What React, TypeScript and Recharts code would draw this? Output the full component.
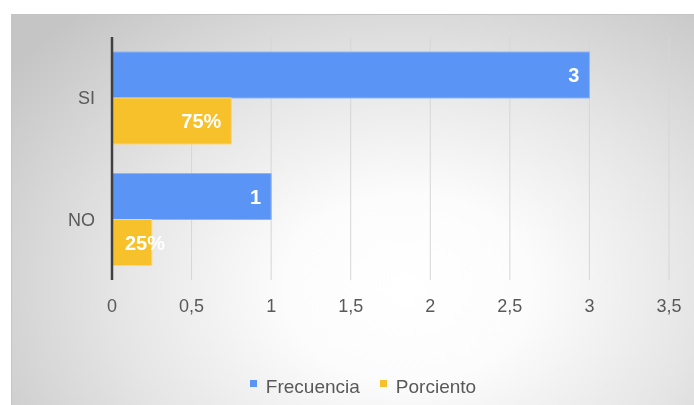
import React from 'react';
import { BarChart, Bar, XAxis, YAxis, CartesianGrid, Legend, LabelList } from 'recharts';

const categories = ['SI', 'NO'];
const frecuencia = [3, 1];
const porciento = [0.75, 0.25];
const xTicks = [0, 0.5, 1, 1.5, 2, 2.5, 3, 3.5];
const seriesNames = ['Frecuencia', 'Porciento'];
const seriesColors = ['#5a94f4', '#f6c12b'];
const seriesStrokes = ['#8cb4f7', '#f9d577'];

const data = categories.map((c, i) => ({ name: c, frecuencia: frecuencia[i], porciento: porciento[i] }));

const FONT = '"Liberation Sans", Arial, sans-serif';

const makeLabel = (fmt: (v: number) => string) => (props: any) => {
  const { x, y, width, height, value } = props;
  const text = fmt(Number(value));
  const estW = text.length * 12;
  const fits = width > estW + 22;
  const tx = fits ? x + width - 10 : x + 13;
  return (
    <text
      x={tx}
      y={y + height / 2}
      dy="0.36em"
      textAnchor={fits ? 'end' : 'start'}
      fill="#ffffff"
      fontWeight="bold"
      fontSize={20}
      fontFamily={FONT}
    >
      {text}
    </text>
  );
};

const renderLegend = () => (
  <div
    style={{
      display: 'flex',
      justifyContent: 'center',
      width: 683,
      paddingLeft: 21,
      boxSizing: 'border-box',
      fontFamily: FONT,
      fontSize: 19,
      lineHeight: '20px',
      color: '#595959',
    }}
  >
    {seriesNames.map((n, i) => (
      <div key={n} style={{ display: 'flex', alignItems: 'flex-start', marginRight: i === 0 ? 20 : 0 }}>
        <span
          style={{
            display: 'inline-block',
            width: 7,
            height: 7,
            background: seriesColors[i],
            marginTop: 3,
            marginRight: 9,
          }}
        />
        <span>{n}</span>
      </div>
    ))}
  </div>
);

export default function App() {
  return (
    <div
      style={{
        position: 'fixed',
        left: 11,
        top: 14,
        width: 683,
        height: 391,
        background:
          'radial-gradient(ellipse 72% 95% at 58% 70%, #ffffff 0%, #fcfcfc 25%, #e6e6e6 58%, #c5c5c5 100%)',
        borderTop: '1px solid #c4c4c4',
        borderLeft: '1px solid #c4c4c4',
        boxSizing: 'border-box',
      }}
    >
      <BarChart
        width={683}
        height={391}
        data={data}
        layout="vertical"
        margin={{ top: 23, right: 25, bottom: 95, left: 0 }}
        barCategoryGap={15}
        barGap={0}
        style={{ position: 'absolute', left: -1, top: -1 }}
      >
        <CartesianGrid horizontal={false} vertical={true} stroke="#d6d6d6" strokeWidth={1} />
        <XAxis
          type="number"
          domain={[0, 3.5]}
          ticks={xTicks}
          tickFormatter={(v: number) => String(v).replace('.', ',')}
          axisLine={false}
          tickLine={false}
          tickSize={0}
          tickMargin={19}
          height={30}
          interval={0}
          tick={{ fill: '#595959', fontSize: 18, fontFamily: FONT }}
        />
        <YAxis
          type="category"
          dataKey="name"
          width={101}
          axisLine={{ stroke: '#404040', strokeWidth: 2.5 }}
          tickLine={false}
          tickSize={0}
          tickMargin={17}
          tick={{ fill: '#595959', fontSize: 18, fontFamily: FONT }}
        />
        <Legend
          layout="horizontal"
          verticalAlign="middle"
          align="center"
          content={renderLegend}
          wrapperStyle={{ left: 0, top: 363, width: 683 }}
        />
        <Bar
          dataKey="frecuencia"
          name={seriesNames[0]}
          fill={seriesColors[0]}
          stroke={seriesStrokes[0]}
          strokeWidth={1}
          isAnimationActive={false}
        >
          <LabelList dataKey="frecuencia" content={makeLabel((v) => String(v))} />
        </Bar>
        <Bar
          dataKey="porciento"
          name={seriesNames[1]}
          fill={seriesColors[1]}
          stroke={seriesStrokes[1]}
          strokeWidth={1}
          isAnimationActive={false}
        >
          <LabelList dataKey="porciento" content={makeLabel((v) => `${Math.round(v * 100)}%`)} />
        </Bar>
      </BarChart>
    </div>
  );
}
